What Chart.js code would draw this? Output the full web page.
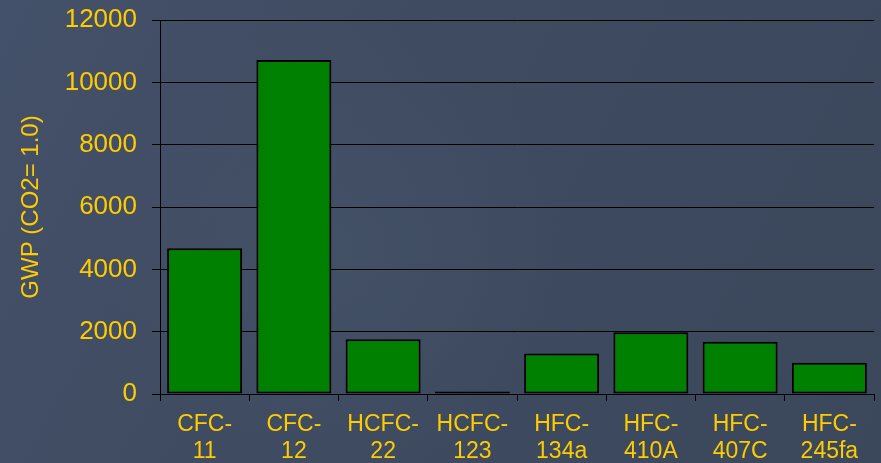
<!DOCTYPE html>
<html>
<head>
<meta charset="utf-8">
<script src="https://cdn.jsdelivr.net/npm/chart.js@4/dist/chart.umd.min.js"></script>
<style>
  html, body { margin: 0; padding: 0; background: #3d4a5e; }
  #wrap { width: 881px; height: 463px; }
</style>
</head>
<body>
<div id="wrap"><canvas id="gwpChart" width="881" height="463"></canvas></div>
<script>
// refrigerants and their global warming potential
var categories = [['CFC-', '11'], ['CFC-', '12'], ['HCFC-', '22'], ['HCFC-', '123'],
                  ['HFC-', '134a'], ['HFC-', '410A'], ['HFC-', '407C'], ['HFC-', '245fa']];
var gwpValues = [4680, 10720, 1760, 77, 1300, 1980, 1680, 1000];
var yTicks = [0, 2000, 4000, 6000, 8000, 10000, 12000];

var gold = '#FFCC00';

// slide-like background behind the chart
var backdrop = {
    id: 'backdrop',
    beforeDraw: function (chart) {
        var c = chart.ctx;
        var w = chart.width, h = chart.height;
        c.save();
        var g = c.createLinearGradient(0, 0, w, h);
        g.addColorStop(0, '#44516a');
        g.addColorStop(0.4, '#3e4b60');
        g.addColorStop(1, '#3b485c');
        c.fillStyle = g;
        c.fillRect(0, 0, w, h);
        var r = c.createRadialGradient(330, 250, 20, 330, 250, 230);
        r.addColorStop(0, 'rgba(80,95,118,0.25)');
        r.addColorStop(1, 'rgba(80,95,118,0)');
        c.fillStyle = r;
        c.fillRect(0, 0, w, h);
        c.restore();
    }
};

var ctx = document.getElementById('gwpChart').getContext('2d');
var chart = new Chart(ctx, {
    type: 'bar',
    data: {
        labels: categories,
        datasets: [{
            label: 'GWP',
            data: gwpValues,
            backgroundColor: '#008000',
            borderColor: '#000000',
            borderWidth: 2,
            borderSkipped: false,
            categoryPercentage: 1.0,
            barPercentage: 0.84
        }]
    },
    options: {
        responsive: false,
        animation: false,
        layout: { padding: { top: 20, right: 7, left: 0, bottom: 0 } },
        plugins: {
            legend: { display: false },
            tooltip: { enabled: false }
        },
        scales: {
            x: {
                offset: true,
                grid: {
                    offset: true,
                    drawOnChartArea: false,
                    color: '#000000',
                    tickLength: 7,
                    lineWidth: 1
                },
                border: { color: '#000000', width: 1 },
                ticks: {
                    color: gold,
                    font: { family: 'Liberation Sans', size: 23, lineHeight: 1.17 },
                    padding: 10,
                    maxRotation: 0,
                    autoSkip: false
                },
                afterFit: function (scale) {
                    scale.height = 69;
                    scale.paddingLeft = 0;
                    scale.paddingRight = 0;
                }
            },
            y: {
                min: 0,
                max: 12000,
                afterBuildTicks: function (scale) {
                    scale.ticks = yTicks.map(function (v) { return { value: v }; });
                },
                grid: {
                    color: '#000000',
                    tickLength: 8,
                    lineWidth: 1
                },
                border: { color: '#000000', width: 1 },
                ticks: {
                    color: gold,
                    font: { family: 'Liberation Sans', size: 26 },
                    padding: 15,
                    callback: function (v) { return String(v); }
                },
                title: {
                    display: true,
                    text: 'GWP (CO2= 1.0)',
                    color: gold,
                    font: { family: 'Liberation Sans', size: 24 },
                    padding: { top: 17, bottom: 0 }
                },
                afterFit: function (scale) {
                    scale.width = 160;
                    scale.paddingTop = 0;
                    scale.paddingBottom = 0;
                }
            }
        }
    },
    plugins: [backdrop]
});
</script>
</body>
</html>
